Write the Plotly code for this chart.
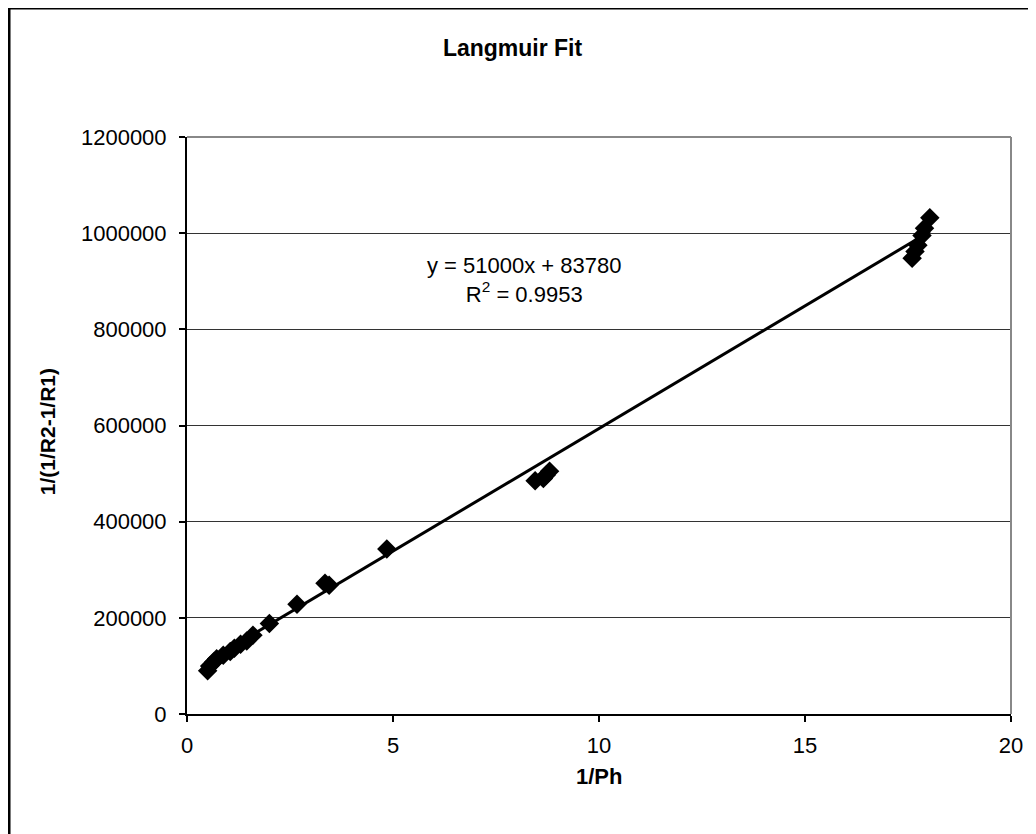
import numpy as np
import plotly.graph_objects as go

# Data
inv_ph = [0.50, 0.55, 0.65, 0.72, 0.88, 1.05, 1.15, 1.30, 1.45, 1.60, 2.00, 2.67,
          3.35, 3.45, 4.85, 8.45, 8.65, 8.72, 8.80,
          17.60, 17.67, 17.74, 17.84, 17.90, 18.03]
inv_r = [90000, 100000, 108000, 115000, 122000, 130000, 137000, 145000, 152000, 164000,
         188000, 228000, 272000, 268000, 343000, 485000, 490000, 497000, 505000,
         948000, 962000, 975000, 995000, 1010000, 1032000]
slope = 51000
intercept = 83780
r2 = 0.9953
x_ticks = [0, 5, 10, 15, 20]
y_ticks = [0, 200000, 400000, 600000, 800000, 1000000, 1200000]

fit_x = np.array([min(inv_ph), max(inv_ph)])
fit_y = slope * fit_x + intercept

FONT = "Liberation Sans, Arial, sans-serif"

fig = go.Figure()
fig.add_trace(go.Scatter(x=inv_ph, y=inv_r, mode="markers",
                         marker=dict(symbol="diamond", size=15, color="black"),
                         showlegend=False))
fig.add_trace(go.Scatter(x=fit_x, y=fit_y, mode="lines",
                         line=dict(color="black", width=3), showlegend=False))

fig.update_layout(
    width=1036, height=834,
    margin=dict(l=179, r=33, t=129, b=128),
    paper_bgcolor="white", plot_bgcolor="white",
    font=dict(family=FONT, color="black", size=22),
    title=dict(text="<b>Langmuir Fit</b>", x=0.487, xanchor="center",
               y=0.952, yanchor="middle", font=dict(size=23, family=FONT)),
    xaxis=dict(range=[0, 20], tickvals=x_ticks, showgrid=False, zeroline=False,
               showline=True, linecolor="black", linewidth=2,
               ticks="outside", ticklen=6, tickcolor="black", tickwidth=1.5,
               tickfont=dict(size=22), ticklabelstandoff=5),
    yaxis=dict(range=[0, 1200000], tickvals=y_ticks, showgrid=True,
               gridcolor="#333333", gridwidth=1, zeroline=False,
               showline=True, linecolor="black", linewidth=2,
               ticks="outside", ticklen=6, tickcolor="black", tickwidth=1.5,
               tickfont=dict(size=22), tickformat="d", ticklabelstandoff=8),
)

# axis titles
fig.add_annotation(xref="paper", yref="paper", x=0.5, y=-0.109, showarrow=False,
                   text="<b>1/Ph</b>", font=dict(size=22, family=FONT),
                   xanchor="center", yanchor="middle")
fig.add_annotation(xref="paper", yref="paper", x=-0.170, y=0.49, showarrow=False,
                   text="<b>1/(1/R2-1/R1)</b>", font=dict(size=21, family=FONT),
                   textangle=-90, xanchor="center", yanchor="middle")

# plot area border: top and right in gray
fig.add_shape(type="line", xref="paper", yref="paper", x0=0, x1=1, y0=1, y1=1,
              line=dict(color="#888888", width=2))
fig.add_shape(type="line", xref="paper", yref="paper", x0=1, x1=1, y0=0, y1=1,
              line=dict(color="#888888", width=2))

# outer chart frame
fig.add_shape(type="rect", xref="paper", yref="paper",
              x0=-0.216, x1=1.06, y0=-0.25, y1=1.2236,
              line=dict(color="black", width=3), layer="below")

fig.add_annotation(xref="x", yref="y", x=8.2, y=903000, showarrow=False,
                   text=f"y = {slope}x + {intercept}<br>R<sup>2</sup> = {r2}",
                   font=dict(size=22, family=FONT), align="center")

fig.write_html("out.html")
